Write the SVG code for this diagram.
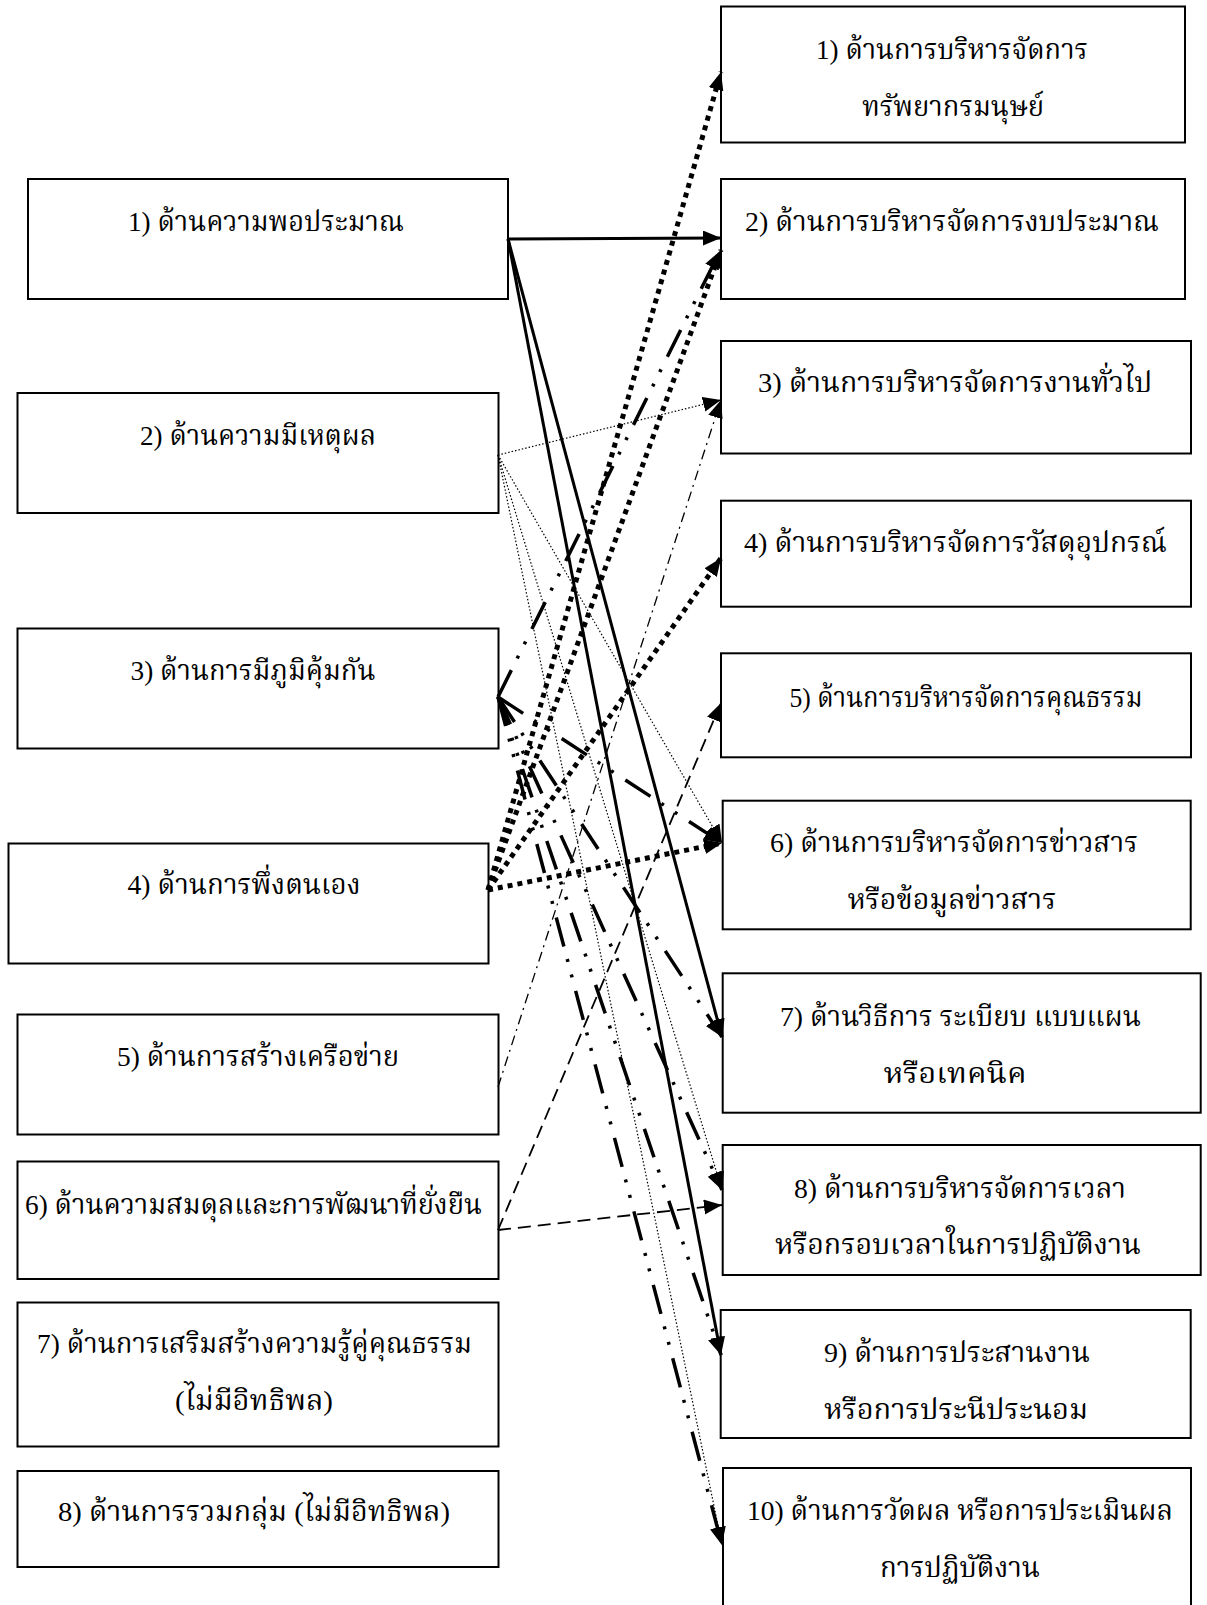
<svg xmlns="http://www.w3.org/2000/svg" width="1207" height="1605" viewBox="0 0 1207 1605">
<style>
  .box { fill: #ffffff; stroke: #000000; stroke-width: 2; }
  .t { font-family: "Liberation Serif", "Kinnari", "Norasi", "Noto Serif Thai", "Noto Sans Thai", "DejaVu Serif", serif; font-size: 28px; fill: #000000; text-anchor: middle; }
  .c { fill: none; stroke: #000000; marker-end: url(#arrow); }
  .solid { stroke-width: 3; }
  .sq { stroke-width: 5; stroke-dasharray: 5 5; }
  .dot { stroke-width: 1.2; stroke-dasharray: 1.5 2; }
  .dd { stroke-width: 3.5; stroke-dasharray: 30 13 3 13 3 14; }
  .dashdot { stroke-width: 1.3; stroke-dasharray: 10 5 2 5; }
  .dash { stroke-width: 1.8; stroke-dasharray: 13 7; }
</style>
<defs>
  <marker id="arrow" markerUnits="userSpaceOnUse" markerWidth="22" markerHeight="18" refX="18" refY="7.5" orient="auto">
    <path d="M0,0 L18,7.5 L0,15 z" fill="#000000" stroke="none"/>
  </marker>
</defs>
<rect width="1207" height="1605" fill="#ffffff"/>

<g id="L1"><rect class="box" x="28" y="179" width="480" height="120"/><text class="t" x="266" y="231" textLength="276" lengthAdjust="spacingAndGlyphs">1) ด้านความพอประมาณ</text></g>
<g id="L2"><rect class="box" x="17.5" y="393" width="481" height="120"/><text class="t" x="258" y="445" textLength="236" lengthAdjust="spacingAndGlyphs">2) ด้านความมีเหตุผล</text></g>
<g id="L3"><rect class="box" x="17.5" y="628.5" width="481" height="120"/><text class="t" x="253" y="680" textLength="245" lengthAdjust="spacingAndGlyphs">3) ด้านการมีภูมิคุ้มกัน</text></g>
<g id="L4"><rect class="box" x="8.5" y="843.5" width="480" height="120"/><text class="t" x="244" y="894" textLength="233" lengthAdjust="spacingAndGlyphs">4) ด้านการพึ่งตนเอง</text></g>
<g id="L5"><rect class="box" x="17.5" y="1014.5" width="481" height="120"/><text class="t" x="258" y="1066" textLength="282" lengthAdjust="spacingAndGlyphs">5) ด้านการสร้างเครือข่าย</text></g>
<g id="L6"><rect class="box" x="17.5" y="1161.5" width="481" height="117.5"/><text class="t" x="253.5" y="1214" textLength="457" lengthAdjust="spacingAndGlyphs">6) ด้านความสมดุลและการพัฒนาที่ยั่งยืน</text></g>
<g id="L7"><rect class="box" x="17.5" y="1302.5" width="481" height="144"/><text class="t" x="254.5" y="1353" textLength="435" lengthAdjust="spacingAndGlyphs">7) ด้านการเสริมสร้างความรู้คู่คุณธรรม</text><text class="t" x="254" y="1410" textLength="158" lengthAdjust="spacingAndGlyphs">(ไม่มีอิทธิพล)</text></g>
<g id="L8"><rect class="box" x="17.5" y="1471" width="481" height="96"/><text class="t" x="254" y="1521" textLength="392" lengthAdjust="spacingAndGlyphs">8) ด้านการรวมกลุ่ม (ไม่มีอิทธิพล)</text></g>

<g id="R1"><rect class="box" x="721" y="6.5" width="464" height="136"/><text class="t" x="952" y="59" textLength="272" lengthAdjust="spacingAndGlyphs">1) ด้านการบริหารจัดการ</text><text class="t" x="953" y="116" textLength="182" lengthAdjust="spacingAndGlyphs">ทรัพยากรมนุษย์</text></g>
<g id="R2"><rect class="box" x="721" y="179" width="464" height="120"/><text class="t" x="952" y="231" textLength="414" lengthAdjust="spacingAndGlyphs">2) ด้านการบริหารจัดการงบประมาณ</text></g>
<g id="R3"><rect class="box" x="721" y="341" width="470" height="112.5"/><text class="t" x="955" y="392" textLength="394" lengthAdjust="spacingAndGlyphs">3) ด้านการบริหารจัดการงานทั่วไป</text></g>
<g id="R4"><rect class="box" x="721" y="500.7" width="470" height="106"/><text class="t" x="955.5" y="552" textLength="423" lengthAdjust="spacingAndGlyphs">4) ด้านการบริหารจัดการวัสดุอุปกรณ์</text></g>
<g id="R5"><rect class="box" x="721" y="653.3" width="470" height="104"/><text class="t" x="966" y="707" textLength="353" lengthAdjust="spacingAndGlyphs">5) ด้านการบริหารจัดการคุณธรรม</text></g>
<g id="R6"><rect class="box" x="722.7" y="800.7" width="468" height="128.6"/><text class="t" x="954" y="852" textLength="368" lengthAdjust="spacingAndGlyphs">6) ด้านการบริหารจัดการข่าวสาร</text><text class="t" x="952" y="909" textLength="209" lengthAdjust="spacingAndGlyphs">หรือข้อมูลข่าวสาร</text></g>
<g id="R7"><rect class="box" x="722.7" y="973.3" width="478" height="139.4"/><text class="t" x="960.5" y="1026" textLength="361" lengthAdjust="spacingAndGlyphs">7) ด้านวิธีการ ระเบียบ แบบแผน</text><text class="t" x="955" y="1083" textLength="143" lengthAdjust="spacingAndGlyphs">หรือเทคนิค</text></g>
<g id="R8"><rect class="box" x="722.7" y="1145" width="478" height="130"/><text class="t" x="960" y="1198" textLength="332" lengthAdjust="spacingAndGlyphs">8) ด้านการบริหารจัดการเวลา</text><text class="t" x="958" y="1254" textLength="366" lengthAdjust="spacingAndGlyphs">หรือกรอบเวลาในการปฏิบัติงาน</text></g>
<g id="R9"><rect class="box" x="720.7" y="1310" width="470" height="128"/><text class="t" x="957" y="1362" textLength="266" lengthAdjust="spacingAndGlyphs">9) ด้านการประสานงาน</text><text class="t" x="956" y="1419" textLength="264" lengthAdjust="spacingAndGlyphs">หรือการประนีประนอม</text></g>
<g id="R10"><rect class="box" x="723" y="1468" width="468" height="160"/><text class="t" x="960" y="1520" textLength="426" lengthAdjust="spacingAndGlyphs">10) ด้านการวัดผล หรือการประเมินผล</text><text class="t" x="960" y="1577" textLength="160" lengthAdjust="spacingAndGlyphs">การปฏิบัติงาน</text></g>

<g id="connectors">
  <line class="c solid" x1="508" y1="239" x2="721" y2="238"/>
  <line class="c solid" x1="508" y1="239" x2="722" y2="1037"/>
  <line class="c solid" x1="508" y1="239" x2="721" y2="1355"/>

  <line class="c dot" x1="498" y1="455" x2="721" y2="400"/>
  <line class="c dot" x1="498" y1="455" x2="722" y2="843"/>
  <line class="c dot" x1="498" y1="455" x2="722" y2="1190"/>
  <line class="c dot" x1="498" y1="455" x2="722" y2="1545"/>

  <line class="c dd" x1="498" y1="697" x2="720" y2="251"/>
  <line class="c dd" x1="498" y1="697" x2="722" y2="843"/>
  <line class="c dd" x1="498" y1="697" x2="722" y2="1037"/>
  <line class="c dd" x1="498" y1="697" x2="722" y2="1190"/>
  <line class="c dd" x1="498" y1="697" x2="721" y2="1355"/>
  <line class="c dd" x1="498" y1="697" x2="722" y2="1545"/>

  <line class="c sq" x1="488" y1="890" x2="721" y2="72"/>
  <line class="c sq" x1="488" y1="890" x2="721" y2="250"/>
  <line class="c sq" x1="488" y1="890" x2="721" y2="558"/>
  <line class="c sq" x1="488" y1="890" x2="722" y2="843"/>

  <line class="c dashdot" x1="498" y1="1087" x2="721" y2="400"/>

  <line class="c dash" x1="498" y1="1230" x2="721" y2="703"/>
  <line class="c dash" x1="498" y1="1230" x2="722" y2="1205"/>
</g>
</svg>
